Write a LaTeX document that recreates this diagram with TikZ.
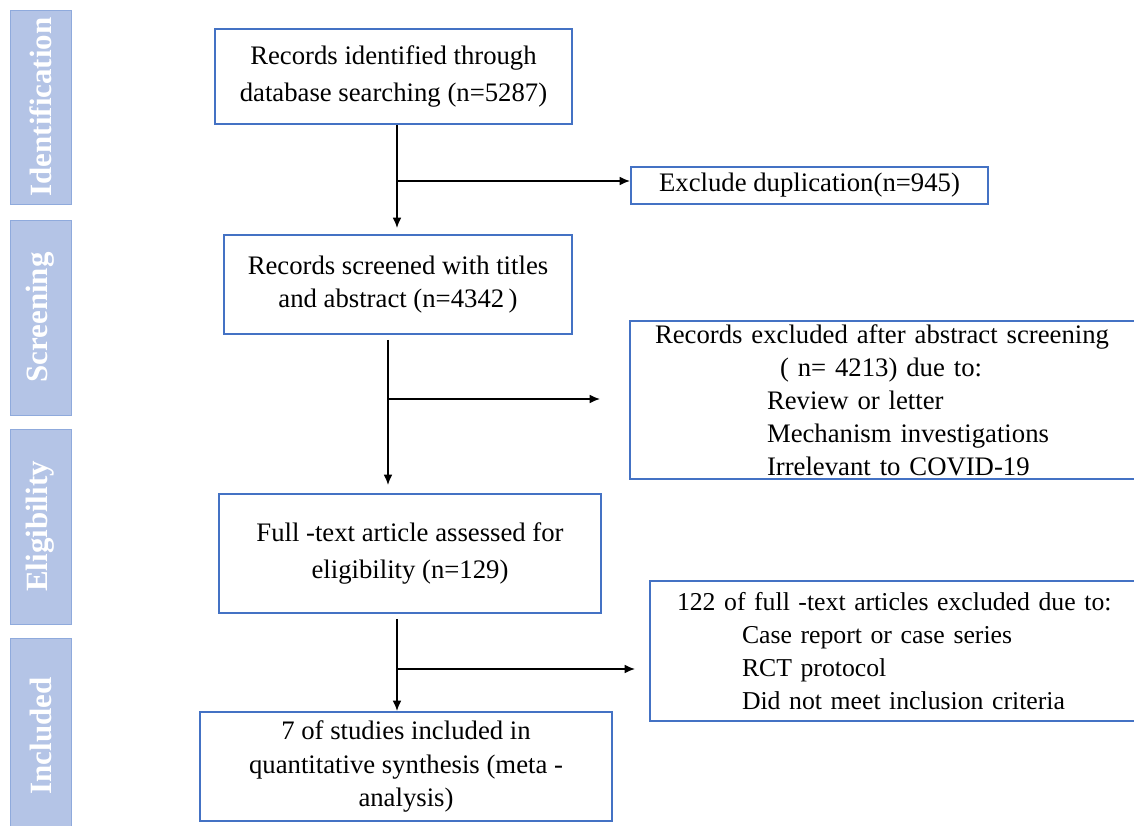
\documentclass[tikz,border=0pt]{standalone}
\usepackage{fontspec}
\setmainfont{Liberation Serif}
\usetikzlibrary{arrows.meta}
\definecolor{boxblue}{RGB}{68,114,196}
\definecolor{barfill}{RGB}{180,196,230}
\definecolor{barline}{RGB}{143,170,220}
\newlength\pxu
\setlength\pxu{0.025cm}

\begin{document}
\begin{tikzpicture}[x=0.025cm,y=-0.025cm]
        \tikzset{
            flowbox/.style={draw=boxblue,line width=1.4pt,align=center,inner sep=0pt,
                font=\fontsize{19}{23.5}\selectfont},
            stagebar/.style={draw=barline,fill=barfill,line width=0.7pt,rotate=90,
                minimum width=195\pxu,minimum height=61\pxu,text=white,
                font=\fontsize{22}{26}\selectfont\bfseries},
            flowarrow/.style={-{Latex[length=2.6mm,width=2.2mm]},line width=1pt},
        }
        \useasboundingbox (0,0) rectangle (1134,826);

        % stage bars
        \node[stagebar,minimum width=194\pxu] (ident) at (40.5,107) {Identification};
        \node[stagebar] (screen) at (40.5,317.5) {Screening};
        \node[stagebar] (elig) at (40.5,526.5) {Eligibility};
        \node[stagebar,minimum width=196\pxu] (incl) at (40.5,736) {Included};

        % main column
        \node[flowbox,minimum width=357\pxu,minimum height=95\pxu] (rec) at (393.5,76.5)
            {Records identified through\\[3pt] database searching (n=5287)};
        \node[flowbox,minimum width=348\pxu,minimum height=99\pxu] (screened) at (398,284.5)
            {Records screened with titles\\ and abstract (n=4342\,)};
        \node[flowbox,minimum width=382\pxu,minimum height=119\pxu] (full) at (410,553.5)
            {Full -text article assessed for\\[3pt] eligibility (n=129)};
        \node[flowbox,minimum width=412\pxu,minimum height=109\pxu] (synth) at (406,766.5)
            {7 of studies included in\\ quantitative synthesis (meta -\\ analysis)};

        % exclusion boxes
        \node[flowbox,minimum width=357\pxu,minimum height=37\pxu] (dup) at (809.5,185.5)
            {Exclude duplication(n=945)};
        \node[flowbox,align=left,text width=507\pxu,minimum height=158\pxu] (absex) at (883.5,400)
            {\hspace*{25\pxu}Records excluded after abstract screening\\
             \hspace*{150\pxu}( n= 4213) due to:\\
             \hspace*{137\pxu}Review or letter\\
             \hspace*{137\pxu}Mechanism investigations\\
             \hspace*{137\pxu}Irrelevant to COVID-19};
        \node[flowbox,align=left,text width=487\pxu,minimum height=140\pxu,
            font=\fontsize{18.3}{23.5}\selectfont] (fullex) at (893.5,651)
            {\hspace*{27\pxu}122 of full -text articles excluded due to:\\
             \hspace*{92\pxu}Case report or case series\\
             \hspace*{92\pxu}RCT protocol\\
             \hspace*{92\pxu}Did not meet inclusion criteria};

        \coordinate (j1) at (397,181);
        \coordinate (j2) at (388,399);
        \coordinate (j3) at (397,669);

        \draw[flowarrow,shorten >=6\pxu] (rec.south -| j1) -- (screened.north -| j1);
        \draw[flowarrow] (j1) -- (j1 -| dup.west);
        \draw[flowarrow,shorten <=5\pxu,shorten >=8\pxu] (screened.south -| j2) -- (full.north -| j2);
        \draw[flowarrow,shorten >=29\pxu] (j2) -- (j2 -| absex.west);
        \draw[flowarrow,shorten <=5\pxu] (full.south -| j3) -- (synth.north -| j3);
        \draw[flowarrow,shorten >=14\pxu] (j3) -- (j3 -| fullex.west);
    \end{tikzpicture}
\end{document}
